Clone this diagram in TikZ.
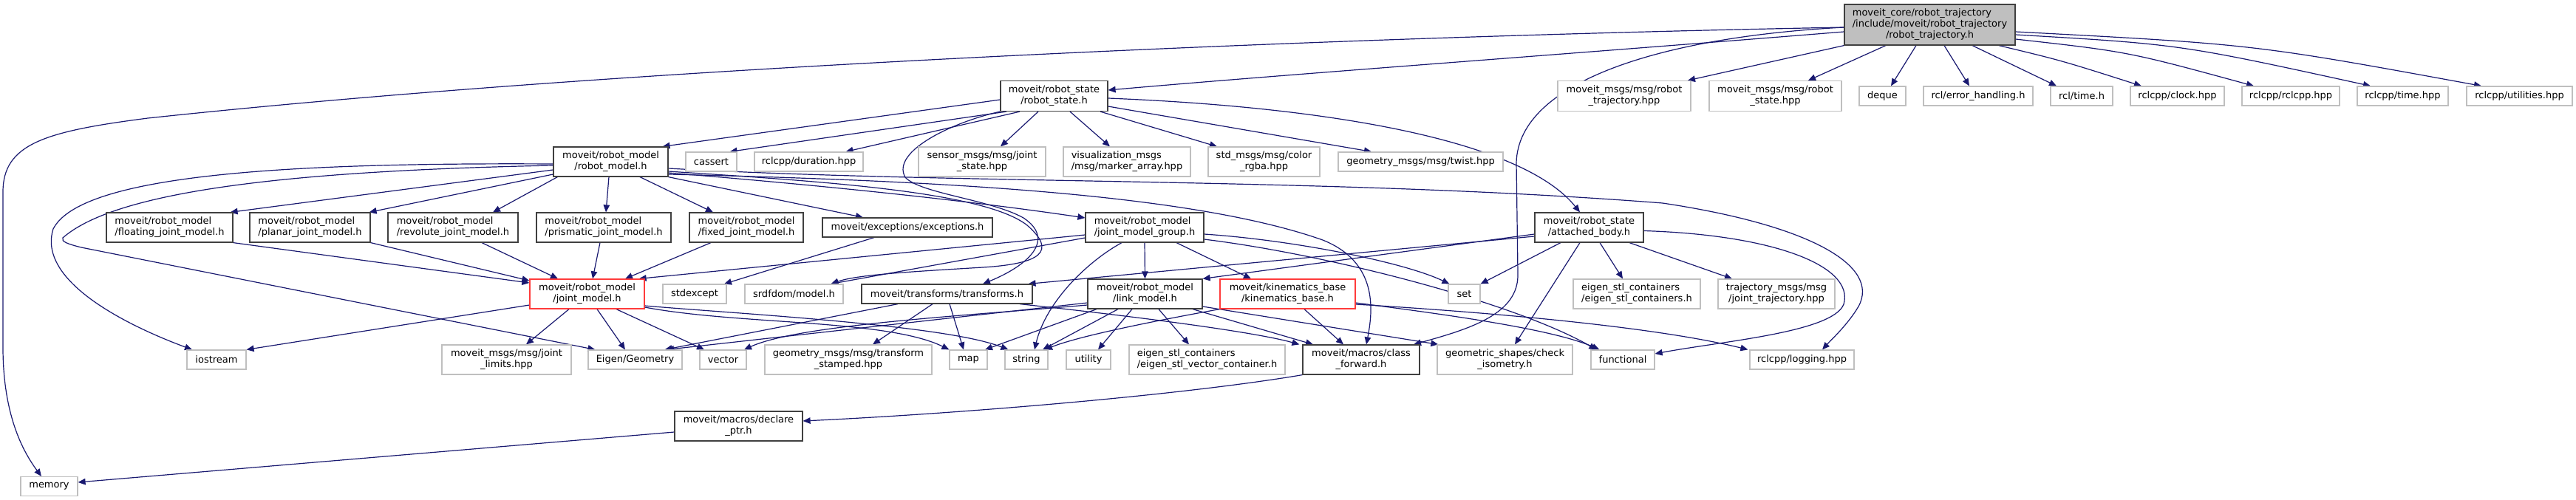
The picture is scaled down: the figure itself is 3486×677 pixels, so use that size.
\documentclass[tikz,border=0pt]{standalone}
\usepackage{fontspec}
\setmainfont{DejaVu Sans}
\usetikzlibrary{arrows.meta}
\pgfdeclarelayer{bg}
\pgfsetlayers{bg,main}
\definecolor{edgec}{HTML}{191970}
\definecolor{greyL}{HTML}{BFBFBF}
\definecolor{greyD}{HTML}{404040}
\definecolor{truncred}{HTML}{FF3B3B}
\newcommand\nf{\fontsize{13}{15}\selectfont}
\newcommand\lbltwo[2]{\begin{tabular}{@{}l@{}}#1\\\multicolumn{1}{@{}c@{}}{#2}\end{tabular}}
\newcommand\lblthree[3]{\begin{tabular}{@{}l@{}}#1\\#2\\\multicolumn{1}{@{}c@{}}{#3}\end{tabular}}
\tikzset{
  nd/.style={draw, line width=1.2pt, inner sep=0pt, font=\nf, align=center, fill=white},
  ext/.style={nd, draw=greyL},
  doc/.style={nd, draw=greyD},
  trunc/.style={nd, draw=truncred},
  mainnd/.style={nd, draw=greyD, fill=greyL},
  ed/.style={draw=edgec, line width=1.2pt, -{Triangle[length=10pt,width=8.5pt]}}
}
\begin{document}
\begin{tikzpicture}[x=1pt,y=-1pt]
\useasboundingbox (0,0) rectangle (3486,677);
\begin{pgfonlayer}{bg}
\fill[white] (0,0) rectangle (3486,677);
\end{pgfonlayer}
% row 0
\node[mainnd,minimum width=231pt,minimum height=55pt] (main) at (2611.5,33.5) {\lblthree{moveit\_core/robot\_trajectory}{/include/moveit/robot\_trajectory}{/robot\_trajectory.h}};
% row 1
\node[doc,minimum width=145pt,minimum height=41pt] (rs) at (1426.5,130) {\lbltwo{moveit/robot\_state}{/robot\_state.h}};
\node[ext,minimum width=180pt,minimum height=41pt] (mtraj) at (2198,130) {\lbltwo{moveit\_msgs/msg/robot}{\_trajectory.hpp}};
\node[ext,minimum width=179pt,minimum height=41pt] (mstate) at (2402.5,130) {\lbltwo{moveit\_msgs/msg/robot}{\_state.hpp}};
\node[ext,minimum width=63pt,minimum height=26pt] (deque) at (2547.5,130) {deque};
\node[ext,minimum width=148pt,minimum height=26pt] (rclerr) at (2677,130) {rcl/error\_handling.h};
\node[ext,minimum width=84pt,minimum height=26pt] (rcltime) at (2817,130) {rcl/time.h};
\node[ext,minimum width=127pt,minimum height=26pt] (clock) at (2946.5,130) {rclcpp/clock.hpp};
\node[ext,minimum width=132pt,minimum height=26pt] (rclcpp) at (3100,130) {rclcpp/rclcpp.hpp};
\node[ext,minimum width=123pt,minimum height=26pt] (rtime) at (3251.5,130) {rclcpp/time.hpp};
\node[ext,minimum width=143pt,minimum height=26pt] (util) at (3409.5,130) {rclcpp/utilities.hpp};
% row 2
\node[doc,minimum width=155pt,minimum height=40pt] (rm) at (826.5,219) {\lbltwo{moveit/robot\_model}{/robot\_model.h}};
\node[ext,minimum width=69pt,minimum height=26pt] (cassert) at (962.5,219) {cassert};
\node[ext,minimum width=147pt,minimum height=26pt] (duration) at (1094.5,219) {rclcpp/duration.hpp};
\node[ext,minimum width=172pt,minimum height=40pt] (sensor) at (1329,219) {\lbltwo{sensor\_msgs/msg/joint}{\_state.hpp}};
\node[ext,minimum width=172pt,minimum height=40pt] (vis) at (1525,219) {\lbltwo{visualization\_msgs}{/msg/marker\_array.hpp}};
\node[ext,minimum width=151pt,minimum height=40pt] (color) at (1710.5,219) {\lbltwo{std\_msgs/msg/color}{\_rgba.hpp}};
\node[ext,minimum width=223pt,minimum height=26pt] (twist) at (1922.5,219) {geometry\_msgs/msg/twist.hpp};
% row 3
\node[doc,minimum width=171pt,minimum height=40pt] (floating) at (229.5,308) {\lbltwo{moveit/robot\_model}{/floating\_joint\_model.h}};
\node[doc,minimum width=163pt,minimum height=40pt] (planar) at (419.5,308) {\lbltwo{moveit/robot\_model}{/planar\_joint\_model.h}};
\node[doc,minimum width=176pt,minimum height=40pt] (revolute) at (613,308) {\lbltwo{moveit/robot\_model}{/revolute\_joint\_model.h}};
\node[doc,minimum width=182pt,minimum height=40pt] (prismatic) at (817,308) {\lbltwo{moveit/robot\_model}{/prismatic\_joint\_model.h}};
\node[doc,minimum width=154pt,minimum height=40pt] (fixed) at (1010,308) {\lbltwo{moveit/robot\_model}{/fixed\_joint\_model.h}};
\node[doc,minimum width=230pt,minimum height=26pt] (exc) at (1228,308) {moveit/exceptions/exceptions.h};
\node[doc,minimum width=160pt,minimum height=40pt] (jmg) at (1549,308) {\lbltwo{moveit/robot\_model}{/joint\_model\_group.h}};
\node[doc,minimum width=147pt,minimum height=40pt] (ab) at (2150.5,308) {\lbltwo{moveit/robot\_state}{/attached\_body.h}};
% row 4
\node[trunc,minimum width=155pt,minimum height=40pt] (jm) at (794.5,398) {\lbltwo{moveit/robot\_model}{/joint\_model.h}};
\node[ext,minimum width=86pt,minimum height=26pt] (stdexcept) at (940,398) {stdexcept};
\node[ext,minimum width=133pt,minimum height=26pt] (srdf) at (1074.5,398) {srdfdom/model.h};
\node[doc,minimum width=231pt,minimum height=26pt] (tf) at (1281.5,398) {moveit/transforms/transforms.h};
\node[doc,minimum width=155pt,minimum height=40pt] (lm) at (1549.5,398) {\lbltwo{moveit/robot\_model}{/link\_model.h}};
\node[trunc,minimum width=183pt,minimum height=40pt] (kb) at (1742.5,398) {\lbltwo{moveit/kinematics\_base}{/kinematics\_base.h}};
\node[ext,minimum width=43pt,minimum height=26pt] (set) at (1981.5,398) {set};
\node[ext,minimum width=172pt,minimum height=40pt] (esc) at (2215,398) {\lbltwo{eigen\_stl\_containers}{/eigen\_stl\_containers.h}};
\node[ext,minimum width=158pt,minimum height=40pt] (traj) at (2404,398) {\lbltwo{trajectory\_msgs/msg}{/joint\_trajectory.hpp}};
% row 5
\node[ext,minimum width=80pt,minimum height=26pt] (iostream) at (293,487) {iostream};
\node[ext,minimum width=175pt,minimum height=40pt] (jl) at (685.5,487) {\lbltwo{moveit\_msgs/msg/joint}{\_limits.hpp}};
\node[ext,minimum width=127pt,minimum height=26pt] (eigen) at (859.5,487) {Eigen/Geometry};
\node[ext,minimum width=63pt,minimum height=26pt] (vector) at (978.5,487) {vector};
\node[ext,minimum width=226pt,minimum height=40pt] (ts) at (1148,487) {\lbltwo{geometry\_msgs/msg/transform}{\_stamped.hpp}};
\node[ext,minimum width=51pt,minimum height=26pt] (map) at (1310.5,487) {map};
\node[ext,minimum width=58pt,minimum height=26pt] (string) at (1389,487) {string};
\node[ext,minimum width=60pt,minimum height=26pt] (utility) at (1473,487) {utility};
\node[ext,minimum width=211pt,minimum height=40pt] (esvc) at (1633.5,487) {\lbltwo{eigen\_stl\_containers}{/eigen\_stl\_vector\_container.h}};
\node[doc,minimum width=158pt,minimum height=40pt] (cf) at (1842,487) {\lbltwo{moveit/macros/class}{\_forward.h}};
\node[ext,minimum width=183pt,minimum height=40pt] (iso) at (2036.5,487) {\lbltwo{geometric\_shapes/check}{\_isometry.h}};
\node[ext,minimum width=86pt,minimum height=26pt] (functional) at (2196,487) {functional};
\node[ext,minimum width=141pt,minimum height=26pt] (logging) at (2438.5,487) {rclcpp/logging.hpp};
% rows 6-7
\node[doc,minimum width=173pt,minimum height=40pt] (dp) at (999.5,577) {\lbltwo{moveit/macros/declare}{\_ptr.h}};
\node[ext,minimum width=77pt,minimum height=26pt] (memory) at (66.5,658.5) {memory};

\begin{pgfonlayer}{bg}
% main node
\draw[ed] (main.south west) -- ([xshift=86pt]mtraj.north);
\draw[ed] ([xshift=-59.5pt]main.south) -- ([xshift=44.5pt]mstate.north);
\draw[ed] ([xshift=-18.5pt]main.south) -- ([xshift=11.5pt]deque.north);
\draw[ed] ([xshift=19.5pt]main.south) -- ([xshift=-12pt]rclerr.north);
\draw[ed] ([xshift=57.5pt]main.south) -- ([xshift=-34pt]rcltime.north);
\draw[ed] ([xshift=93.5pt]main.south) .. controls (2790,82) .. ([xshift=-48.5pt]clock.north);
\draw[ed] ([yshift=-19.5pt]main.east) .. controls (2880,70) .. ([xshift=-50pt]rclcpp.north);
\draw[ed] ([yshift=-13.5pt]main.east) .. controls (2950,60) .. ([xshift=-43.5pt]rtime.north);
\draw[ed] ([yshift=-9.5pt]main.east) .. controls (3050,60) .. ([xshift=-51.5pt]util.north);
\draw[ed] ([yshift=-9.5pt]main.west) .. controls (2100,75) and (1750,100) .. ([yshift=8pt]rs.east);
\draw[ed] ([yshift=-3.5pt]main.west) .. controls (1900,48) and (900,85) .. (200,160) .. controls (60,178) and (4,195) .. (4,260) -- (4,470) .. controls (4,560) and (30,610) .. ([xshift=-10.5pt]memory.north);
\draw[ed] ([yshift=-3.5pt]main.west) .. controls (2250,50) and (2055,110) .. (2052,220) -- (2054,370) .. controls (2056,425) and (1990,445) .. ([xshift=71pt]cf.north);
% robot_state
\draw[ed] ([yshift=-5pt]rs.west) -- ([xshift=70pt]rm.north);
\draw[ed] ([xshift=-64.5pt]rs.south) -- ([xshift=25pt]cassert.north);
\draw[ed] ([xshift=-46.5pt]rs.south) -- ([xshift=50pt]duration.north);
\draw[ed] ([xshift=-21.5pt]rs.south) -- ([xshift=25pt]sensor.north);
\draw[ed] ([xshift=21.5pt]rs.south) -- ([xshift=-23pt]vis.north);
\draw[ed] ([xshift=62.5pt]rs.south) -- ([xshift=-63.5pt]color.north);
\draw[ed] ([yshift=-14pt]rs.east) -- ([xshift=-66.5pt]twist.north);
\draw[ed] ([yshift=-3pt]rs.east) .. controls (1800,145) and (2060,190) .. ([xshift=-12.5pt]ab.north);
\draw[ed] (rs.south west) .. controls (1290,165) and (1205,205) .. (1225,240) .. controls (1245,262) and (1340,270) .. (1385,295) .. controls (1430,325) and (1390,360) .. ([xshift=48.5pt]tf.north);
% robot_model
\draw[ed] ([yshift=-11pt]rm.west) -- ([xshift=-4pt]floating.north east);
\draw[ed] ([yshift=-17pt]rm.west) -- ([xshift=-2pt]planar.north east);
\draw[ed] ([xshift=6pt]rm.south west) -- ([xshift=54pt]revolute.north);
\draw[ed] ([xshift=-2.5pt]rm.south) -- ([xshift=3pt]prismatic.north);
\draw[ed] ([xshift=39.5pt]rm.south) -- ([xshift=-45pt]fixed.north);
\draw[ed] (rm.south east) -- ([xshift=-60pt]exc.north);
\draw[ed] ([yshift=-15pt]rm.east) .. controls (1100,250) and (1300,270) .. ([yshift=13pt]jmg.west);
\draw[ed] ([yshift=-3pt]rm.west) .. controls (400,220) and (110,235) .. (72,310) .. controls (50,380) and (170,440) .. ([xshift=-33pt]iostream.north);
\draw[ed] ([yshift=-5pt]rm.west) .. controls (350,232) and (150,265) .. (85,322) .. controls (83,327) and (90,330) .. (110,335) -- ([xshift=-54pt]eigen.north);
\draw[ed] ([yshift=-13pt]rm.east) .. controls (1100,245) and (1330,258) .. (1390,305) .. controls (1430,340) and (1410,357) .. (1330,362) .. controls (1230,368) and (1160,372) .. ([xshift=50pt]srdf.north);
\draw[ed] ([yshift=-9pt]rm.east) .. controls (1300,250) and (1800,240) .. (2250,275) .. controls (2450,305) and (2545,360) .. (2515,415) .. controls (2500,440) and (2480,458) .. ([xshift=27.5pt]logging.north);
\draw[ed] ([yshift=-17pt]rm.east) .. controls (1300,245) and (1620,265) .. (1790,325) .. controls (1865,355) and (1858,420) .. ([xshift=7pt]cf.north);
% joint_model_group
\draw[ed] ([yshift=-10pt]jmg.west) -- ([xshift=-8pt]jm.north east);
\draw[ed] ([yshift=-14pt]jmg.west) -- ([xshift=50pt]srdf.north);
\draw[ed] (jmg.south) -- (lm.north);
\draw[ed] ([xshift=-31pt]jmg.south) .. controls (1470,355) and (1415,410) .. ([xshift=11pt]string.north);
\draw[ed] ([xshift=43pt]jmg.south) -- ([xshift=-49.5pt]kb.north);
\draw[ed] ([yshift=-9pt]jmg.east) .. controls (1750,325) and (1900,355) .. ([xshift=2pt]set.north west);
\draw[ed] ([yshift=-16pt]jmg.east) .. controls (1800,345) and (2050,410) .. ([xshift=8pt]functional.north west);
% link_model
\draw[ed] ([xshift=-65.5pt]lm.south) -- ([xshift=22.5pt]map.north);
\draw[ed] ([xshift=-36.5pt]lm.south) -- ([xshift=22pt]string.north);
\draw[ed] ([xshift=-17.5pt]lm.south) -- ([xshift=13pt]utility.north);
\draw[ed] ([xshift=18.5pt]lm.south) -- ([xshift=-24.5pt]esvc.north);
\draw[ed] ([xshift=64.5pt]lm.south) -- ([xshift=-65pt]cf.north);
\draw[ed] ([yshift=-17pt]lm.east) -- ([xshift=2pt]iso.north west);
\draw[ed] ([yshift=-12pt]lm.west) -- ([xshift=42.5pt]eigen.north);
\draw[ed] ([yshift=-15pt]lm.west) .. controls (1300,428) and (1080,440) .. ([xshift=28.5pt]vector.north);
% kinematics_base
\draw[ed] (kb.south west) .. controls (1560,435) and (1460,455) .. ([xshift=25pt]string.north);
\draw[ed] ([xshift=22.5pt]kb.south) -- ([xshift=-24pt]cf.north);
\draw[ed] ([yshift=-12pt]kb.east) .. controls (1950,425) and (2100,445) .. ([xshift=12pt]functional.north west);
\draw[ed] ([yshift=-14pt]kb.east) .. controls (2050,425) and (2250,445) .. ([xshift=-2pt]logging.north west);
% transforms
\draw[ed] ([xshift=-19.5pt]tf.south) -- ([xshift=33pt]ts.north);
\draw[ed] ([xshift=3.5pt]tf.south) -- ([xshift=-6.5pt]map.north);
\draw[ed] ([xshift=-66.5pt]tf.south) -- ([xshift=40pt]eigen.north);
\draw[ed] ([xshift=98.5pt]tf.south) .. controls (1550,430) and (1700,450) .. ([xshift=-4pt]cf.north west);
% joint_model
\draw[ed] ([xshift=-24.5pt]jm.south) -- ([xshift=26.5pt]jl.north);
\draw[ed] ([xshift=13.5pt]jm.south) -- ([xshift=-13.5pt]eigen.north);
\draw[ed] ([xshift=39.5pt]jm.south) -- ([xshift=-25.5pt]vector.north);
\draw[ed] ([yshift=-18pt]jm.east) .. controls (1000,440) and (1200,432) .. (map.north west);
\draw[ed] ([yshift=-16pt]jm.east) .. controls (1000,425) and (1280,440) .. ([xshift=5pt]string.north west);
\draw[ed] ([yshift=-15pt]jm.west) -- (iostream.north east);
% exceptions
\draw[ed] ([xshift=-45pt]exc.south) -- ([xshift=40pt]stdexcept.north);
% joint types
\draw[ed] (floating.south east) -- ([yshift=15pt]jm.west);
\draw[ed] (planar.south east) -- ([yshift=18pt]jm.west);
\draw[ed] ([xshift=39pt]revolute.south) -- ([xshift=-39.5pt]jm.north);
\draw[ed] ([xshift=-5pt]prismatic.south) -- ([xshift=7.5pt]jm.north);
\draw[ed] ([xshift=-48pt]fixed.south) -- ([xshift=51.5pt]jm.north);
% attached_body
\draw[ed] ([yshift=-12pt]ab.west) -- ([xshift=110pt]tf.north);
\draw[ed] ([yshift=-9pt]ab.west) -- (lm.north east);
\draw[ed] ([xshift=-38.5pt]ab.south) -- (set.north east);
\draw[ed] ([xshift=-12.5pt]ab.south) -- ([xshift=13.5pt]iso.north);
\draw[ed] ([xshift=14.5pt]ab.south) -- ([xshift=-19pt]esc.north);
\draw[ed] ([xshift=54.5pt]ab.south) -- ([xshift=-60pt]traj.north);
\draw[ed] ([yshift=-4.5pt]ab.east) .. controls (2400,318) and (2510,360) .. (2495,412) .. controls (2480,450) and (2330,462) .. ([yshift=8pt]functional.east);
% macros
\draw[ed] (cf.south west) .. controls (1600,535) and (1300,560) .. ([yshift=7pt]dp.east);
\draw[ed] ([yshift=-8pt]dp.west) -- ([yshift=5.5pt]memory.east);
\end{pgfonlayer}
\end{tikzpicture}
\end{document}
